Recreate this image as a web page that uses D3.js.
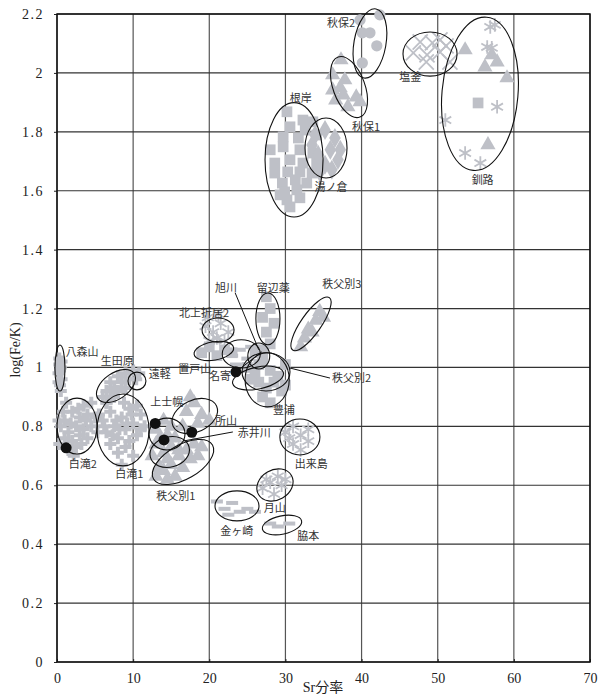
<!DOCTYPE html>
<html><head><meta charset="utf-8">
<script src="https://cdn.jsdelivr.net/npm/d3@7"></script>
<style>
body{margin:0;background:#fff;}
svg{display:block;}
.tick text{font-family:"Liberation Serif","DejaVu Serif",serif;}
</style></head>
<body>
<svg id="chart" width="609" height="700"></svg>
<script>
// ---- axis ticks ----
const xTicks = [0,10,20,30,40,50,60,70];
const yTicks = [0,0.2,0.4,0.6,0.8,1.0,1.2,1.4,1.6,1.8,2.0,2.2];

// ---- data: [Sr分率, log(Fe/K)] ----
const hachimoriyama = [[0.3,1.03],[0.5,1.0],[0.2,0.98],[0.6,0.96],[0.4,0.94],[0.3,1.01],[0.6,1.02],[0.2,0.95],[0.5,0.92],[0.4,0.99]];
const shirataki2 = [[0.5,0.8],[1,0.82],[1.5,0.78],[2,0.85],[2.5,0.8],[3,0.83],[3.5,0.87],[4,0.84],[4.5,0.88],[3,0.77],[2,0.75],[1,0.76],[0.3,0.74],[1.5,0.72],[2.5,0.73],[3.5,0.79],[4.5,0.8],[5,0.83],[2.8,0.86],[1.8,0.81],[0.8,0.85],[3.2,0.74],[4,0.76],[2.2,0.7],[5.3,0.78],[0.2,0.82],[1.2,0.88],[3.8,0.82]];
const shirataki1 = [[6,0.82],[6.5,0.78],[7,0.85],[7.5,0.8],[8,0.76],[8.5,0.83],[9,0.79],[9.5,0.86],[10,0.81],[10.5,0.77],[11,0.84],[7,0.74],[8,0.71],[9,0.73],[10,0.7],[8.5,0.67],[6.5,0.88],[7.5,0.9],[9.5,0.75],[11,0.79],[11.5,0.8],[7.8,0.82],[8.8,0.88],[9.8,0.84],[6.2,0.8],[8.2,0.79],[5.5,0.84],[10.5,0.87],[9.2,0.81],[7.3,0.77]];
const ikutahara = [[6,0.9],[6.5,0.92],[7,0.95],[7.5,0.93],[8,0.97],[8.5,0.95],[9,0.98],[9.5,0.96],[10,0.99],[7,0.9],[8,0.92],[9,0.93],[6.5,0.88]];
const engaru = [[10.4,0.96],[10.8,0.98]];
const kamishihoro = [[13,0.79],[14,0.82],[15,0.8],[15.5,0.76],[14.5,0.77],[13.5,0.76]];
const tokoroyama = [[17,0.85],[18,0.88],[19,0.84],[20,0.82],[16.5,0.8],[18.5,0.81],[17.5,0.9]];
const akaigawa = [[13,0.74],[14,0.71],[15,0.73],[16,0.72],[14.5,0.69],[12.5,0.7]];
const chippubetsu1 = [[13,0.63],[14,0.65],[15,0.67],[16,0.7],[17,0.72],[18,0.74],[15.5,0.63],[16.5,0.66],[17.5,0.69],[14.5,0.62],[18.5,0.7],[19,0.73],[13.5,0.66]];
const kitakamiorii2 = [[19.5,1.14],[20.5,1.12],[21.5,1.15],[22.5,1.12],[20,1.09],[21,1.1],[22,1.09],[19.8,1.17],[21.2,1.18]];
const oketoyama = [[19,1.05],[20,1.07],[21,1.04],[22,1.06],[23,1.05]];
const nayoro = [[23,1.04],[24,1.06],[25,1.03],[25.5,1.07],[23.5,1.01]];
const asahikawa = [[26,1.05],[27,1.03],[26.5,1.01]];
const rubeshibe = [[27.5,1.24],[28,1.2],[27,1.17],[28.5,1.15],[27.5,1.12],[28,1.08],[27,1.06]];
const chippubetsu2 = [[25,1.0],[26,0.98],[27,1.02],[28,0.99],[29,0.97],[30,1.01],[26.5,0.95],[27.5,0.93],[28.5,0.95],[29.5,0.92],[27,0.9],[28,0.88],[30,0.94],[25.5,0.96]];
const chippubetsu3 = [[32,1.07],[32.5,1.1],[33,1.13],[34,1.16],[34.5,1.19],[35,1.17],[33.5,1.12]];
const dekijima = [[30,0.78],[31,0.8],[32,0.77],[33,0.79],[31,0.74],[32,0.72],[30.5,0.76],[33,0.75]];
const gassan = [[27,0.59],[28,0.61],[29,0.63],[30,0.62],[28.5,0.57],[29.5,0.6],[27.5,0.62]];
const kanegasaki = [[21,0.545],[22,0.52],[23,0.54],[24,0.51],[25,0.52],[26,0.51],[22.5,0.5]];
const wakimoto = [[28,0.47],[29,0.46],[30.5,0.47]];
const nebuki = [[30.2,1.868],[32.3,1.84],[33.6,1.834],[30.6,1.817],[32.6,1.806],[29.7,1.783],[31.7,1.779],[34.1,1.789],[28.0,1.739],[29.7,1.749],[31.9,1.739],[33.6,1.728],[28.6,1.694],[30.6,1.705],[32.3,1.694],[34.1,1.694],[28.6,1.66],[30.3,1.664],[31.9,1.664],[33.5,1.66],[29.6,1.626],[31.3,1.637],[32.8,1.626],[29.9,1.596],[31.5,1.603],[30.2,1.569],[31.9,1.576],[30.6,1.545],[29.3,1.586]];
const yunokura = [[33.9,1.789],[35.2,1.806],[36.5,1.779],[37.2,1.739],[35.9,1.739],[34.3,1.722],[35.2,1.688],[36.9,1.705],[33.5,1.755],[36.1,1.671],[34.5,1.664]];
const akiu1 = [[37.3,2.044],[36.2,1.993],[37.8,1.976],[37.2,1.949],[36.2,1.942],[37.6,1.925],[36.6,1.908],[39.3,1.918],[39.8,1.902],[38.2,1.885]];
const akiu2 = [[39.8,2.18],[42.4,2.197],[40.1,2.136],[41.1,2.136],[42.0,2.092],[40.1,2.034]];
const shiogama = [[46.8,2.068],[48.6,2.061],[49.3,2.102],[50.3,2.112],[51.1,2.092],[50.3,2.071],[51.6,2.037],[47.7,2.105],[48.5,2.037]];
const kushiroAst = [[56.9,2.156],[57.5,2.163],[56.5,2.088],[57.1,2.085],[57.8,1.885],[51.0,1.84],[53.6,1.728],[55.6,1.694]];
const kushiroTri = [[53.6,2.078],[57.1,2.061],[57.8,2.037],[56.2,2.02],[59.1,1.983],[56.6,1.756]];
const kushiroSq = [[55.3,1.898]];
const artifacts = [[1.2,0.727],[12.9,0.81],[14.05,0.754],[17.7,0.78],[23.5,0.985]];

// series: data + marker type
const series = [
  {data:hachimoriyama, m:"cross"},{data:shirataki2, m:"cross"},{data:shirataki1, m:"cross"},
  {data:ikutahara, m:"cross"},{data:engaru, m:"cross"},
  {data:kamishihoro, m:"triangle"},{data:tokoroyama, m:"triangle"},{data:akaigawa, m:"triangle"},{data:chippubetsu1, m:"triangle"},
  {data:kitakamiorii2, m:"asterisk"},{data:oketoyama, m:"square"},{data:nayoro, m:"dash"},{data:asahikawa, m:"square"},
  {data:rubeshibe, m:"square"},{data:chippubetsu2, m:"square"},{data:chippubetsu3, m:"triangle"},
  {data:dekijima, m:"asterisk"},{data:gassan, m:"asterisk"},{data:kanegasaki, m:"dash"},{data:wakimoto, m:"dash"},
  {data:nebuki, m:"square"},{data:yunokura, m:"diamond"},{data:akiu1, m:"triangle"},{data:akiu2, m:"circle"},
  {data:shiogama, m:"x"},{data:kushiroAst, m:"asterisk"},{data:kushiroTri, m:"triangle"},{data:kushiroSq, m:"square"}
];

// ellipses: centre (data), half-extent in x units / y units, rotation (deg)
const ellipses = [
  [0.39,0.998,0.66,0.078,0],[2.63,0.801,2.63,0.095,0],[8.67,0.788,3.41,0.122,0],[7.75,0.937,2.89,0.044,-35],
  [10.5,0.954,1.18,0.03,0],[14.45,0.774,2.36,0.054,0],[18.1,0.835,3.15,0.054,-25],[14.8,0.713,2.63,0.051,-15],
  [16.55,0.679,4.47,0.058,-30],[21.15,1.127,2.1,0.041,0],[20.6,1.056,2.63,0.031,-10],[24.2,1.046,2.5,0.048,0],
  [26.5,1.039,1.44,0.044,0],[27.7,1.165,1.58,0.088,0],[27.45,0.985,3.15,0.065,0],[27.6,0.958,2.9,0.092,0],
  [26.4,0.964,3.41,0.037,-12],[33.36,1.148,4.2,0.034,-55],[31.9,0.764,2.63,0.061,0],[28.63,0.601,2.5,0.051,-30],
  [23.64,0.53,2.89,0.051,0],[29.55,0.465,2.63,0.031,-12],[31.13,1.705,3.81,0.194,0],[35.33,1.745,2.76,0.102,0],
  [38.35,1.952,4.2,0.054,70],[41.1,2.1,2.1,0.119,10],[48.99,2.064,3.55,0.075,0],[55.55,1.929,4.99,0.261,5]
];

// leader lines [x1,y1,x2,y2]
const leaders = [[23.4,1.253,26.5,1.06],[23.5,0.985,26.9,1.053],[35.85,0.964,30.6,0.998],[23.1,0.781,16.55,0.75]];

// labels
const labelNames = ["秋保2","塩釜","秋保1","根岸","湯ノ倉","釧路","留辺蘂","秩父別3","旭川","北上折居2","八森山","生田原","置戸山","遠軽","名寄","秩父別2","上士幌","豊浦","所山","赤井川","白滝2","白滝1","出来島","秩父別1","月山","金ヶ崎","脇本"];
const labelX = [37.3,46.4,40.6,32.0,36.0,55.9,28.4,37.4,22.2,19.3,3.3,7.9,18.1,13.5,21.4,38.7,14.4,29.8,22.2,25.9,3.4,9.5,33.4,15.6,28.6,23.6,33.0];
const labelY = [2.173,1.99,1.82,1.918,1.616,1.64,1.273,1.287,1.273,1.188,1.056,1.025,0.998,0.981,0.975,0.968,0.886,0.859,0.822,0.781,0.676,0.642,0.676,0.567,0.526,0.448,0.431];

// ---- drawing ----
const svg = d3.select("#chart");
const x = d3.scaleLinear().domain([0,70]).range([57,590]);
const y = d3.scaleLinear().domain([0,2.2]).range([662,14]);
const grey = "#bec0c7";
const gridC = "#555";

// grid
svg.append("g").selectAll("line").data(xTicks).join("line")
  .attr("x1",d=>x(d)).attr("x2",d=>x(d)).attr("y1",y(0)).attr("y2",y(2.2))
  .attr("stroke",gridC).attr("stroke-width",1.2);
svg.append("g").selectAll("line").data(yTicks).join("line")
  .attr("x1",x(0)).attr("x2",x(70)).attr("y1",d=>y(d)).attr("y2",d=>y(d))
  .attr("stroke","#333").attr("stroke-width",1.2);

// axes
const fmtY = d => d===0 ? "0" : (Number.isInteger(d) ? String(d) : d.toFixed(1));
const gy = svg.append("g").attr("transform",`translate(${x(0)},0)`)
  .call(d3.axisLeft(y).tickValues(yTicks).tickFormat(fmtY).tickSize(3).tickPadding(10));
gy.select(".domain").remove();
gy.selectAll("text").attr("font-size",14).attr("fill","#222").attr("letter-spacing","1.5px");
gy.selectAll(".tick line").attr("stroke","#222");
const gx = svg.append("g").attr("transform",`translate(0,${y(0)})`)
  .call(d3.axisBottom(x).tickValues(xTicks).tickFormat(d3.format("d")).tickSize(3).tickPadding(8));
gx.select(".domain").remove();
gx.selectAll("text").attr("font-size",14).attr("fill","#222");
gx.selectAll(".tick line").attr("stroke","#222").attr("transform","translate(0,-3)");

// frame
svg.append("rect").attr("x",x(0)).attr("y",y(2.2)).attr("width",x(70)-x(0)).attr("height",y(0)-y(2.2))
  .attr("fill","none").attr("stroke","#111").attr("stroke-width",1.5);

// markers
const mg = svg.append("g");
const sym = {
  cross:d3.symbol(d3.symbolCross,80), triangle:d3.symbol(d3.symbolTriangle,100),
  square:d3.symbol(d3.symbolSquare,115), diamond:d3.symbol(d3.symbolDiamond,115),
  circle:d3.symbol(d3.symbolCircle,100), asterisk:d3.symbol(d3.symbolAsterisk,130),
  x:d3.symbol(d3.symbolX,150)
};
series.forEach(s=>{
  const g = mg.append("g");
  if (s.m==="dash") {
    g.selectAll("rect").data(s.data).join("rect")
      .attr("x",d=>x(d[0])-6).attr("y",d=>y(d[1])-2).attr("width",12).attr("height",4).attr("fill",grey);
  } else {
    const stroked = (s.m==="asterisk"||s.m==="x");
    g.selectAll("path").data(s.data).join("path")
      .attr("transform",d=>`translate(${x(d[0])},${y(d[1])})`)
      .attr("d",sym[s.m]())
      .attr("fill",stroked?"none":grey)
      .attr("stroke",stroked?grey:"none").attr("stroke-width",stroked?1.8:0);
  }
});

// ellipses
svg.append("g").selectAll("ellipse").data(ellipses).join("ellipse")
  .attr("transform",d=>`translate(${x(d[0])},${y(d[1])}) rotate(${d[4]})`)
  .attr("rx",d=>x(d[2])-x(0)).attr("ry",d=>y(0)-y(d[3]))
  .attr("fill","none").attr("stroke","#111").attr("stroke-width",1.1);

// leaders
svg.append("g").selectAll("line").data(leaders).join("line")
  .attr("x1",d=>x(d[0])).attr("y1",d=>y(d[1])).attr("x2",d=>x(d[2])).attr("y2",d=>y(d[3]))
  .attr("stroke","#111").attr("stroke-width",1);

// black dots (artifacts)
svg.append("g").selectAll("circle").data(artifacts).join("circle")
  .attr("cx",d=>x(d[0])).attr("cy",d=>y(d[1])).attr("r",5.5).attr("fill","#111");

// labels
svg.append("g").selectAll("text").data(labelNames).join("text")
  .attr("x",(d,i)=>x(labelX[i])).attr("y",(d,i)=>y(labelY[i]))
  .attr("text-anchor","middle").attr("dominant-baseline","central")
  .attr("font-family","'Noto Sans CJK JP',sans-serif").attr("font-size",11).attr("fill","#333")
  .text(d=>d);

// axis titles
svg.append("text").attr("x",323).attr("y",692).attr("text-anchor","middle")
  .attr("font-family","'Liberation Serif','Noto Sans CJK JP',serif").attr("font-size",14).attr("fill","#222")
  .text("Sr分率");
svg.append("text").attr("transform","translate(20,350) rotate(-90)").attr("text-anchor","middle")
  .attr("font-family","'Liberation Serif',serif").attr("font-size",14).attr("fill","#222")
  .text("log(Fe/K)");
</script>
</body></html>
